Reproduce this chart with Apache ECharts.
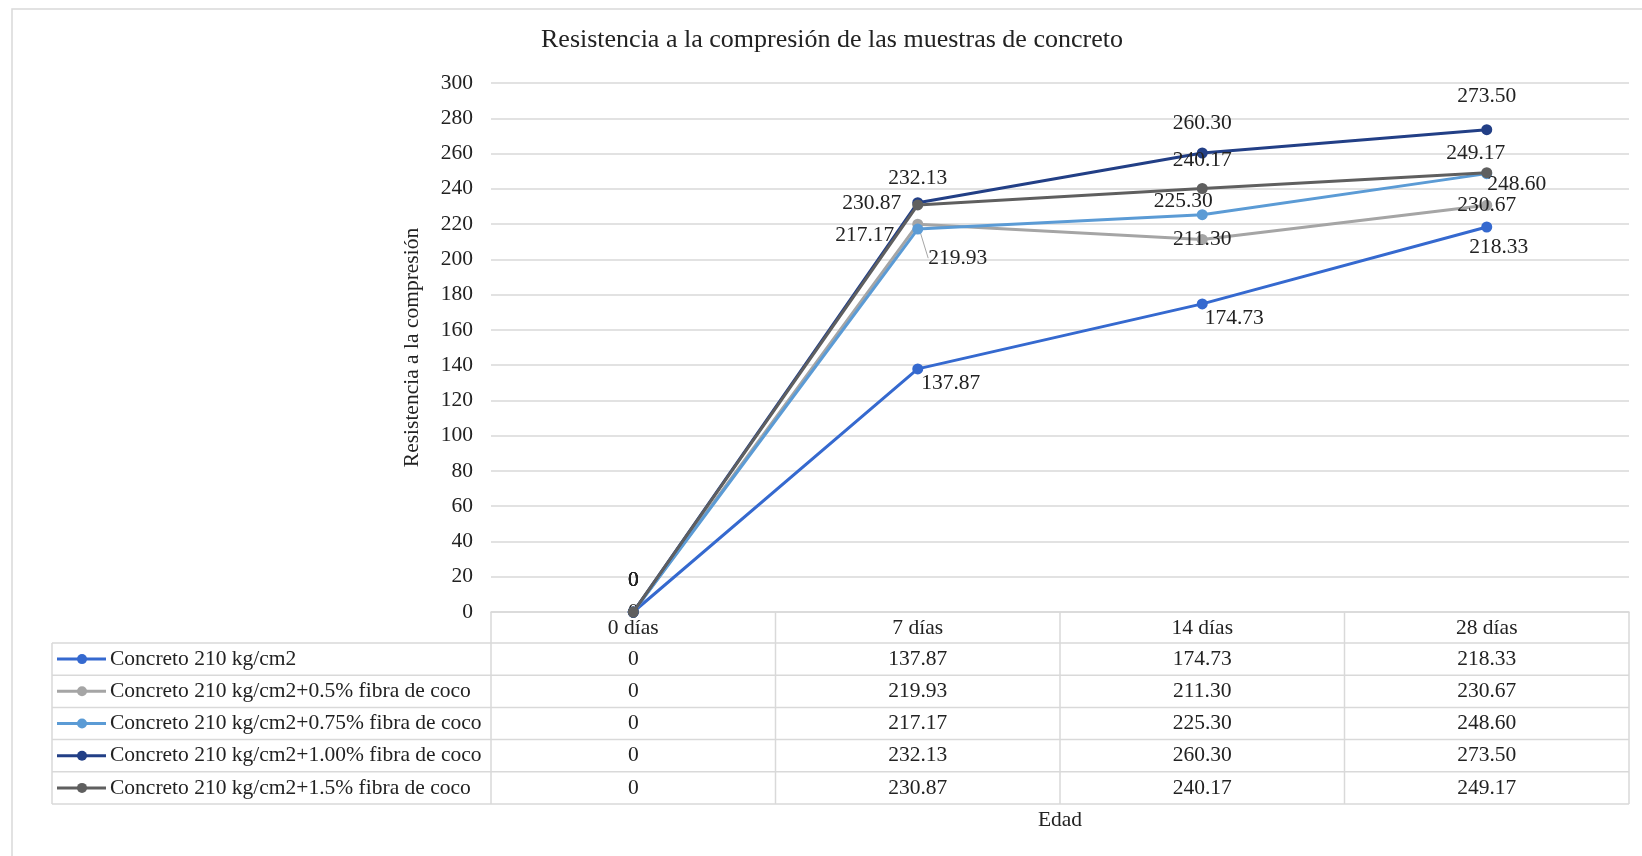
<!DOCTYPE html>
<html>
<head>
<meta charset="utf-8">
<title>Resistencia a la compresión</title>
<script src="https://cdn.jsdelivr.net/npm/echarts@6/dist/echarts.min.js"></script>
<style>
  html, body { margin: 0; padding: 0; background: #ffffff; }
  #chart { width: 1642px; height: 856px; }
</style>
</head>
<body>
<div id="chart"></div>
<script>
// ---- data ----
const categories = ['0 días', '7 días', '14 días', '28 días'];
const seriesNames = [
  'Concreto 210 kg/cm2',
  'Concreto 210 kg/cm2+0.5% fibra de coco',
  'Concreto 210 kg/cm2+0.75% fibra de coco',
  'Concreto 210 kg/cm2+1.00% fibra de coco',
  'Concreto 210 kg/cm2+1.5% fibra de coco'
];
const concreto = [0, 137.87, 174.73, 218.33];
const fibra050 = [0, 219.93, 211.30, 230.67];
const fibra075 = [0, 217.17, 225.30, 248.60];
const fibra100 = [0, 232.13, 260.30, 273.50];
const fibra150 = [0, 230.87, 240.17, 249.17];
const yTicks = { min: 0, max: 300, step: 20 };

const allSeries = [concreto, fibra050, fibra075, fibra100, fibra150];

// ---- styling / layout ----
const FONT = 'Liberation Serif';
const TEXT = '#222222';
const RULE = '#d9d9d9';
const colors = ['#3569cf', '#a5a5a5', '#5b9bd5', '#223f86', '#5f5f5f'];

// label centre relative to its point [dx, dy] in px
const labelOffsets = [
  [[0, -32], [33, 14], [32, 14], [12, 20]],
  [[0, -32], [0, 0], [10, 13], [28, 4]],
  [[0, -32], [-53, 6], [-19, -13], [30, 11]],
  [[0, -32], [0, -24], [0, -30], [0, -33]],
  [[0, -32], [-46, -2], [0, -28], [-11, -19]]
];
// label pulled away from its point with a leader line (series, point, dx, dy)
const leader = { s: 1, i: 1, dx: 40, dy: 34 };

const GRID = { left: 491, right: 13, top: 83, bottom: 244 };
const TABLE = { left: 52, headerH: 31, rowH: 32.2 };

const fmt = v => (v === 0 ? '0' : v.toFixed(2));

const chart = echarts.init(document.getElementById('chart'), null, { renderer: 'canvas' });

const series = allSeries.map((vals, s) => ({
  name: seriesNames[s],
  type: 'line',
  data: vals.map((v, i) => {
    const item = { value: v, label: { offset: labelOffsets[s][i] } };
    if (s === leader.s && i === leader.i) item.labelLine = { show: true };
    return item;
  }),
  symbol: 'circle',
  symbolSize: 11,
  lineStyle: { width: 3, color: colors[s] },
  itemStyle: { color: colors[s] },
  label: {
    show: true,
    position: 'inside',
    color: TEXT,
    textBorderWidth: 0,
    fontFamily: FONT,
    fontSize: 21.5,
    formatter: p => fmt(p.value)
  },
  labelLine: { show: false, lineStyle: { color: '#a6a6a6', width: 1 } },
  labelLayout: s === leader.s
    ? (p => (p.dataIndex === leader.i ? { dx: leader.dx, dy: leader.dy } : {}))
    : undefined,
  emphasis: { disabled: true },
  z: 2 + s
}));

chart.setOption({
  animation: false,
  backgroundColor: '#ffffff',
  title: {
    text: 'Resistencia a la compresión de las muestras de concreto',
    left: 536,
    top: 22,
    textStyle: { fontFamily: FONT, fontSize: 26, fontWeight: 'normal', color: TEXT }
  },
  grid: { left: GRID.left, right: GRID.right, top: GRID.top, bottom: GRID.bottom, containLabel: false },
  xAxis: {
    type: 'category',
    data: categories,
    boundaryGap: true,
    name: 'Edad',
    nameLocation: 'middle',
    nameGap: 197,
    nameTextStyle: { fontFamily: FONT, fontSize: 21.5, color: TEXT },
    axisLine: { show: true, lineStyle: { color: RULE, width: 1.5 } },
    axisTick: { show: false },
    axisLabel: { margin: 5, fontFamily: FONT, fontSize: 21.5, color: TEXT },
    splitLine: { show: false }
  },
  yAxis: {
    type: 'value',
    min: yTicks.min,
    max: yTicks.max,
    interval: yTicks.step,
    name: 'Resistencia a la compresión',
    nameLocation: 'middle',
    nameRotate: 90,
    nameGap: 68,
    nameTextStyle: { fontFamily: FONT, fontSize: 21.5, color: TEXT },
    axisLine: { show: false },
    axisTick: { show: false },
    axisLabel: { margin: 18, fontFamily: FONT, fontSize: 21.5, color: TEXT },
    splitLine: { show: true, lineStyle: { color: RULE, width: 1.5 } }
  },
  series: series
});

// ---- data table under the plot (legend keys + values) ----
function buildTable() {
  const w = chart.getWidth();
  const h = chart.getHeight();
  const x0 = GRID.left;
  const x1 = w - GRID.right;
  const yAxisLine = h - GRID.bottom;
  const centers = categories.map((c, i) => chart.convertToPixel({ xAxisIndex: 0 }, i));
  const bounds = [x0];
  for (let i = 0; i < centers.length - 1; i++) bounds.push((centers[i] + centers[i + 1]) / 2);
  bounds.push(x1);

  const rowTop = yAxisLine + TABLE.headerH;
  const rows = allSeries.length;
  const tableBottom = rowTop + rows * TABLE.rowH;
  const els = [];
  const line = (xa, ya, xb, yb) => els.push({
    type: 'line', silent: true,
    shape: { x1: xa, y1: ya, x2: xb, y2: yb },
    style: { stroke: RULE, lineWidth: 1.5 }
  });
  const text = (str, x, y, align) => els.push({
    type: 'text', silent: true, x: x, y: y,
    style: {
      text: str, fill: TEXT, font: '21.5px "' + FONT + '"',
      align: align, verticalAlign: 'middle', textAlign: align, textVerticalAlign: 'middle'
    }
  });

  // horizontal rules
  for (let r = 0; r <= rows; r++) {
    const y = rowTop + r * TABLE.rowH;
    line(TABLE.left, y, x1, y);
  }
  // vertical rules
  line(TABLE.left, rowTop, TABLE.left, tableBottom);
  bounds.forEach(b => line(b, yAxisLine, b, tableBottom));

  // rows: legend key + values
  allSeries.forEach((vals, s) => {
    const cy = rowTop + (s + 0.5) * TABLE.rowH;
    els.push({
      type: 'line', silent: true,
      shape: { x1: TABLE.left + 5, y1: cy, x2: TABLE.left + 54, y2: cy },
      style: { stroke: colors[s], lineWidth: 3 }
    });
    els.push({
      type: 'circle', silent: true,
      shape: { cx: TABLE.left + 30, cy: cy, r: 5 },
      style: { fill: colors[s] }
    });
    text(seriesNames[s], TABLE.left + 58, cy, 'left');
    vals.forEach((v, i) => text(fmt(v), centers[i], cy, 'center'));
  });

  // chart frame (left and top edges)
  els.push({
    type: 'polyline', silent: true,
    shape: { points: [[12, h + 2], [12, 9], [w + 2, 9]] },
    style: { stroke: RULE, lineWidth: 1.5, fill: null }
  });

  chart.setOption({ graphic: els });
}
buildTable();
</script>
</body>
</html>
